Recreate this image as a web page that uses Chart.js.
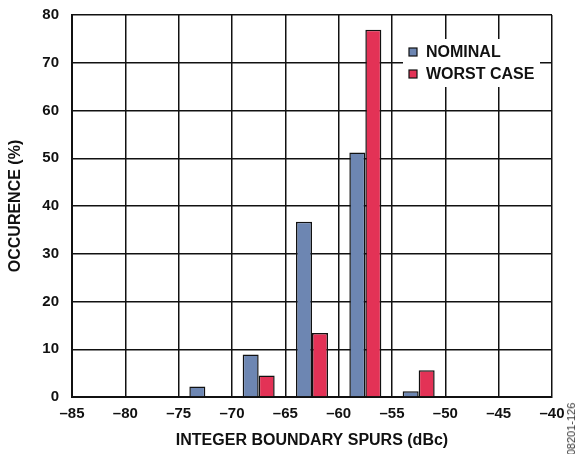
<!DOCTYPE html>
<html>
<head>
<meta charset="utf-8">
<script src="https://cdn.jsdelivr.net/npm/chart.js@4/dist/chart.umd.min.js"></script>
<style>
  html, body { margin: 0; padding: 0; background: #fff; }
  #wrap { position: relative; width: 576px; height: 454px; overflow: hidden; }
  #side {
    position: absolute; left: 571px; top: 429px;
    transform: translate(-50%, -50%) rotate(-90deg);
    font: 11px "Liberation Sans", Arial, sans-serif; color: #333; white-space: nowrap;
  }
</style>
</head>
<body>
<div id="wrap">
  <canvas id="chart" width="576" height="454"></canvas>
  <div id="side">08201-126</div>
</div>
<script>
// ── Data ───────────────────────────────────────────────────────────────────
const binCenters = [-72.5, -67.5, -62.5, -57.5, -52.5];   // dBc, 5 dB bins
const nominal    = [2.2, 8.9, 36.7, 51.2, 1.2];           // %
const worstCase  = [0, 4.5, 13.4, 76.9, 5.6];             // %
const seriesNames = ['NOMINAL', 'WORST CASE'];

// ── Style ──────────────────────────────────────────────────────────────────
const FONT_FAMILY = "'Liberation Sans', Arial, Helvetica, sans-serif";
const BLUE = '#6d86b2';
const RED  = '#e33256';
const INK  = '#111';

function dash(v) {
  return v < 0 ? '\u2013' + Math.abs(v) : String(v);
}

// legend box drawn inside the plot, over the grid
const innerLegend = {
  id: 'innerLegend',
  afterDatasetsDraw(chart) {
    const { ctx, chartArea } = chart;
    const x = chartArea.right - 149, y = chartArea.top + 24;
    ctx.save();
    ctx.fillStyle = '#fff';
    ctx.fillRect(x, y, 137, 48);
    ctx.font = 'bold 16px ' + FONT_FAMILY;
    ctx.textBaseline = 'middle';
    chart.data.datasets.forEach((ds, i) => {
      const cy = y + 13 + i * 22;
      ctx.fillStyle = ds.backgroundColor;
      ctx.fillRect(x + 6, cy - 4, 8, 8);
      ctx.strokeStyle = INK;
      ctx.lineWidth = 1.2;
      ctx.strokeRect(x + 6, cy - 4, 8, 8);
      ctx.fillStyle = INK;
      ctx.fillText(ds.label, x + 23, cy + 1);
    });
    ctx.restore();
  },
};

new Chart(document.getElementById('chart'), {
  type: 'bar',
  data: {
    datasets: [
      {
        label: seriesNames[0],
        data: binCenters.map((x, i) => ({ x, y: nominal[i] })),
        backgroundColor: BLUE, borderColor: INK, borderWidth: 1.5,
        barPercentage: 1.0, categoryPercentage: 0.6,
      },
      {
        label: seriesNames[1],
        data: binCenters.map((x, i) => ({ x, y: worstCase[i] })),
        backgroundColor: RED, borderColor: INK, borderWidth: 1.5,
        barPercentage: 1.0, categoryPercentage: 0.6,
      },
    ],
  },
  options: {
    responsive: false,
    animation: false,
    layout: { padding: { left: 0, right: 24, top: 15, bottom: 0 } },
    plugins: { legend: { display: false }, tooltip: { enabled: false } },
    scales: {
      x: {
        type: 'linear', min: -85, max: -40, offset: false,
        grid: { color: INK, lineWidth: 1.5, drawTicks: false, offset: false },
        border: { color: INK, width: 2 },
        ticks: {
          stepSize: 5, padding: 8, color: INK, maxRotation: 0,
          font: { family: FONT_FAMILY, size: 15, weight: 'bold' },
          callback: (v) => dash(v),
        },
        title: {
          display: true, text: 'INTEGER BOUNDARY SPURS (dBc)', color: INK,
          font: { family: FONT_FAMILY, size: 16, weight: 'bold' },
          padding: { top: 0, bottom: 4 },
        },
        afterFit: (s) => { s.height = 57; },
      },
      y: {
        min: 0, max: 80,
        // invisible tick marks give the label gap without padding the top
        grid: { color: INK, lineWidth: 1.5, drawTicks: true, tickLength: 13, tickColor: 'rgba(0,0,0,0)' },
        border: { color: INK, width: 2 },
        ticks: {
          stepSize: 10, padding: 0, color: INK,
          font: { family: FONT_FAMILY, size: 15, weight: 'bold' },
        },
        title: {
          display: true, text: 'OCCURENCE (%)', color: INK,
          font: { family: FONT_FAMILY, size: 16, weight: 'bold' },
          padding: { top: 6, bottom: 0 },
        },
        afterFit: (s) => { s.width = 72; },
      },
    },
  },
  plugins: [innerLegend],
});
</script>
</body>
</html>
